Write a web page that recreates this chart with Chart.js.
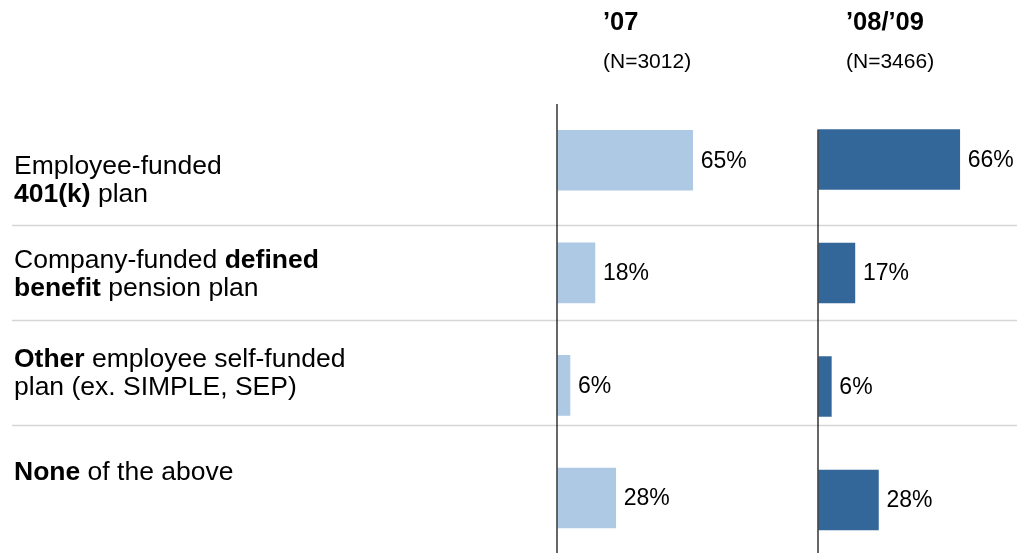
<!DOCTYPE html>
<html><head><meta charset="utf-8">
<script src="https://cdn.jsdelivr.net/npm/chart.js@4/dist/chart.umd.min.js"></script>
<style>
html,body{margin:0;padding:0;background:#fff;overflow:hidden;width:1017px;height:553px}
canvas{position:absolute;left:0;top:0}
</style></head><body>
<canvas id="c07" width="1017" height="560"></canvas>
<canvas id="c09" width="1017" height="560"></canvas>
<script>
// ---- data ----
const categories = ['Employee-funded 401(k) plan', 'Company-funded defined benefit pension plan', 'Other employee self-funded plan (ex. SIMPLE, SEP)', 'None of the above'];
const categoryLabelParts = [
  [[['Employee-funded', false]], [['401(k)', true], [' plan', false]]],
  [[['Company-funded ', false], ['defined', true]], [['benefit', true], [' pension plan', false]]],
  [[['Other', true], [' employee self-funded', false]], [['plan (ex. SIMPLE, SEP)', false]]],
  [[['None', true], [' of the above', false]]]
];
const values07 = [65, 18, 6, 28];
const values0809 = [66, 17, 6, 28];
const header07 = ['\u201907', '(N=3012)'];
const header0809 = ['\u201908/\u201909', '(N=3466)'];

// ---- styling / layout ----
const FONT = '"Liberation Sans", Arial, Helvetica, sans-serif';
const separatorsAt = [0.575, 1.415, 2.35];       // between-row separators, in category units
const labelBaselineShift = [14, -4.5, -18, -18.5]; // row label first-line baseline relative to row centre
const LABEL_LINE_H = 27.5;

function textPlugin(cfg) {
  return {
    id: 'custom_' + cfg.name,
    beforeDatasetsDraw(chart) {
      const ctx = chart.ctx, y = chart.scales.y;
      ctx.save();
      if (cfg.drawSeparators) {
        ctx.strokeStyle = '#d6d6d6';
        ctx.lineWidth = 1.5;
        separatorsAt.forEach(v => {
          const py = Math.round(y.getPixelForValue(v)) + 0.5;
          ctx.beginPath(); ctx.moveTo(12, py); ctx.lineTo(chart.width, py); ctx.stroke();
        });
      }
      ctx.restore();
    },
    afterDatasetsDraw(chart) {
      const ctx = chart.ctx, ca = chart.chartArea, y = chart.scales.y;
      const meta = chart.getDatasetMeta(0);
      ctx.save();
      // axis line
      ctx.strokeStyle = '#000';
      ctx.lineWidth = 1.2;
      const top = cfg.axisFromFirstBar ? (meta.data[0].y - meta.data[0].height / 2) : ca.top;
      ctx.beginPath(); ctx.moveTo(ca.left - 0.5, top); ctx.lineTo(ca.left - 0.5, chart.height); ctx.stroke();
      // value labels
      ctx.fillStyle = '#000';
      ctx.font = '23px ' + FONT;
      ctx.textBaseline = 'middle';
      ctx.textAlign = 'left';
      const vals = chart.data.datasets[0].data;
      meta.data.forEach((bar, i) => {
        ctx.fillText(vals[i] + '%', bar.x + 8, bar.y + 1);
      });
      // headers
      ctx.textBaseline = 'alphabetic';
      ctx.font = 'bold 25.5px ' + FONT;
      ctx.fillText(cfg.header[0], ca.left + cfg.headerOffset, 30);
      ctx.font = '21px ' + FONT;
      ctx.fillText(cfg.header[1], ca.left + cfg.headerOffset, 68);
      // row labels
      if (cfg.drawRowLabels) {
        categoryLabelParts.forEach((lines, i) => {
          let by = y.getPixelForValue(i) + labelBaselineShift[i];
          lines.forEach(parts => {
            let x = 14;
            parts.forEach(([t, b]) => {
              ctx.font = (b ? 'bold ' : '') + '26.5px ' + FONT;
              ctx.fillText(t, x, by);
              x += ctx.measureText(t).width;
            });
            by += LABEL_LINE_H;
          });
        });
      }
      ctx.restore();
    }
  };
}

function makeChart(id, values, color, max, padding, cfg) {
  return new Chart(document.getElementById(id), {
    type: 'bar',
    data: { labels: categories, datasets: [{ data: values, backgroundColor: color, borderWidth: 0, barThickness: 60 }] },
    options: {
      indexAxis: 'y', responsive: false, animation: false, devicePixelRatio: 1,
      layout: { padding: padding },
      plugins: { legend: { display: false }, tooltip: { enabled: false }, title: { display: false } },
      scales: {
        x: { display: false, min: 0, max: max },
        y: { display: false, offset: true }
      }
    },
    plugins: [textPlugin(cfg)]
  });
}

makeChart('c07', values07, '#AEC9E4', 100,
  { left: 557.5, right: 251.5, top: 104, bottom: 5.7 },
  { name: 'a', drawSeparators: true, drawRowLabels: true, axisFromFirstBar: false, header: header07, headerOffset: 45.5 });
makeChart('c09', values0809, '#346799', 90,
  { left: 818.5, right: 5.9, top: 102.75, bottom: 3.25 },
  { name: 'b', drawSeparators: false, drawRowLabels: false, axisFromFirstBar: true, header: header0809, headerOffset: 27.5 });
</script>
</body></html>
